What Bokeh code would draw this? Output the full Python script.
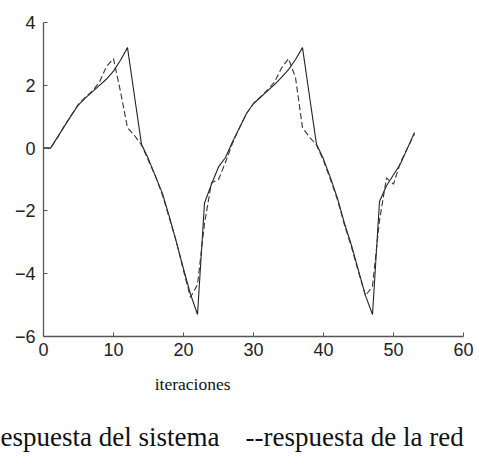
from bokeh.plotting import figure
from bokeh.models import Range1d, FixedTicker
from bokeh.core.properties import value
from bokeh.embed import file_html
from bokeh.resources import INLINE

# Iteration index and the two responses
iteraciones = list(range(54))
sistema = [0, 0, 0.35, 0.7, 1.05, 1.38, 1.6, 1.8, 2.0, 2.2, 2.45, 2.8, 3.2, 1.65,
           0.12, -0.35, -0.9, -1.45, -2.2, -3.0, -3.85, -4.65, -5.3, -1.75, -1.15,
           -0.6, -0.3, 0.2, 0.65, 1.1, 1.42, 1.62, 1.82, 2.02, 2.25, 2.5, 2.82, 3.2,
           1.65, 0.12, -0.35, -0.95, -1.6, -2.4, -3.1, -3.9, -4.7, -5.3, -1.7, -1.2,
           -0.85, -0.5, 0.0, 0.5]
red = [0, 0, 0.33, 0.72, 1.05, 1.4, 1.62, 1.82, 2.1, 2.6, 2.85, 1.8, 0.65, 0.4,
       0.1, -0.4, -0.9, -1.5, -2.25, -3.0, -3.9, -4.75, -4.35, -2.4, -1.1, -1.0,
       -0.45, 0.15, 0.65, 1.1, 1.42, 1.63, 1.85, 2.1, 2.55, 2.85, 2.25, 0.65, 0.35,
       0.1, -0.4, -1.0, -1.65, -2.45, -3.15, -3.95, -4.7, -4.4, -2.3, -0.95, -1.15,
       -0.45, 0.0, 0.45]

x_ticks = [0, 10, 20, 30, 40, 50, 60]
y_ticks = [-6, -4, -2, 0, 2, 4]
x_lim = (0, 60)
y_lim = (-6, 4)

# Captions under the axes
etiqueta_x = "iteraciones"
leyenda = ["espuesta del sistema", "--respuesta de la red"]

# The frame fills the whole canvas; the axes sit at fixed data positions so the
# captions below them can be drawn as ordinary text inside the frame.
W, H = 478, 459
left_px, right_px, top_px, bottom_px = 43, 463, 22, 336
sx = (right_px - left_px) / (x_lim[1] - x_lim[0])
sy = (bottom_px - top_px) / (y_lim[1] - y_lim[0])
x_range = Range1d(x_lim[0] - left_px / sx, x_lim[1] + (W - right_px) / sx)
y_range = Range1d(y_lim[0] - (H - bottom_px) / sy, y_lim[1] + top_px / sy)

p = figure(width=W, height=H, min_border=0, x_range=x_range, y_range=y_range,
           output_backend="svg", toolbar_location=None)
p.outline_line_color = None
p.xgrid.visible = False
p.ygrid.visible = False
p.background_fill_color = "white"
p.border_fill_color = "white"

p.line(iteraciones, sistema, line_color="#222222", line_width=1.1)
p.line(iteraciones, red, line_color="#333333", line_width=1.1, line_dash="6 3")

for ax in (p.xaxis[0], p.yaxis[0]):
    ax.axis_line_color = "#555555"
    ax.axis_line_width = 1.3
    ax.major_tick_line_color = "#555555"
    ax.major_tick_in = 4
    ax.major_tick_out = 0
    ax.minor_tick_line_color = None
    ax.major_label_text_font = "Liberation Sans"
    ax.major_label_text_font_size = "18px"
    ax.major_label_text_color = "#222222"

p.xaxis[0].ticker = FixedTicker(ticks=x_ticks)
p.yaxis[0].ticker = FixedTicker(ticks=y_ticks)
p.xaxis[0].fixed_location = y_lim[0]
p.yaxis[0].fixed_location = x_lim[0]
p.xaxis[0].bounds = x_lim
p.yaxis[0].bounds = y_lim
p.xaxis[0].major_label_standoff = 6
p.yaxis[0].major_label_standoff = 8

serif = value("Liberation Serif")
p.text(x=[21.3], y=[-7.5], text=[etiqueta_x], text_align="center",
       text_baseline="alphabetic", text_font=serif,
       text_font_size="17.5px", text_color="#111111")
p.text(x=[x_range.start, 28.86], y=[-9.2, -9.2], text=leyenda,
       text_align="left", text_baseline="alphabetic", text_font=serif,
       text_font_size="27px", text_color="#111111")

open("out.html", "w").write(file_html(p, INLINE))
